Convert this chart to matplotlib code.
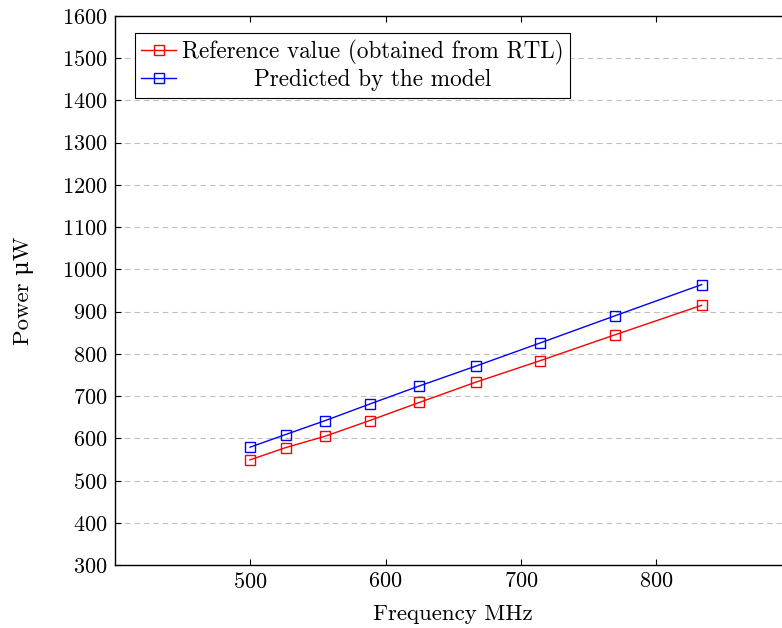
import matplotlib.pyplot as plt
from matplotlib.transforms import Affine2D

# clock periods in ns -> frequency in MHz
period_ns = [2.0, 1.9, 1.8, 1.7, 1.6, 1.5, 1.4, 1.3, 1.2]
freq_mhz = [1000.0 / p for p in period_ns]

power_rtl = [549, 578, 605, 642, 685, 733, 784, 845, 915]
power_model = [579, 609, 642, 681, 724, 771, 826, 890, 964]

label_rtl = 'Reference value (obtained from RTL)'
label_model = 'Predicted by the model'

xticks = [500, 600, 700, 800]
yticks = list(range(300, 1700, 100))

plt.rcParams['font.family'] = ['cmr10', 'DejaVu Serif']
plt.rcParams['mathtext.fontset'] = 'cm'
plt.rcParams['axes.formatter.use_mathtext'] = True
plt.rcParams['font.size'] = 16

W, H = 782, 628
fig = plt.figure(figsize=(W / 100, H / 100), dpi=100)
left, right, top, bottom = 114.5, 792.0, 16.0, 565.0
ax = fig.add_axes([left / W, 1 - bottom / H, (right - left) / W, (bottom - top) / H])

ax.plot(freq_mhz, power_rtl, color='red', lw=1.0, marker='s', ms=7,
        mfc='none', mec='red', mew=1.0, label=label_rtl)
ax.plot(freq_mhz, power_model, color='blue', lw=1.0, marker='s', ms=7,
        mfc='none', mec='blue', mew=1.0, label=label_model)

ax.set_xlim(400, 900)
ax.set_ylim(300, 1600)
ax.set_xticks(xticks)
ax.set_yticks(yticks)
ax.tick_params(direction='in', length=4, width=0.8, top=True, right=True,
               labelsize=16, pad=5)
ax.yaxis.grid(True, linestyle=(0, (5, 3.5)), color='#c0c0c0', lw=0.8)
ax.set_axisbelow(True)
for s in ax.spines.values():
    s.set_linewidth(1.0)

ax.set_xlabel('Frequency MHz', fontsize=16.5, labelpad=9)
ax.set_ylabel('Power μW', fontsize=16.5, labelpad=20)

leg = ax.legend(loc='upper left', bbox_to_anchor=(20.5 / (right - left), 1 - 17 / (bottom - top)),
                borderaxespad=0, fancybox=False, framealpha=1, edgecolor='black',
                numpoints=1, handlelength=1.5, handletextpad=0.25, borderpad=0.28,
                labelspacing=0.2, fontsize=16.7)
leg.get_frame().set_linewidth(0.8)

# center the shorter legend entry under the longer one
renderer = fig.canvas.get_renderer()
widths = [t.get_window_extent(renderer).width for t in leg.get_texts()]
wmax = max(widths)
for t, w in zip(leg.get_texts(), widths):
    dx = (wmax - w) / 2
    if dx > 0:
        t.set_transform(t.get_transform() + Affine2D().translate(dx, 0))

fig.savefig('out.png', dpi=100)
